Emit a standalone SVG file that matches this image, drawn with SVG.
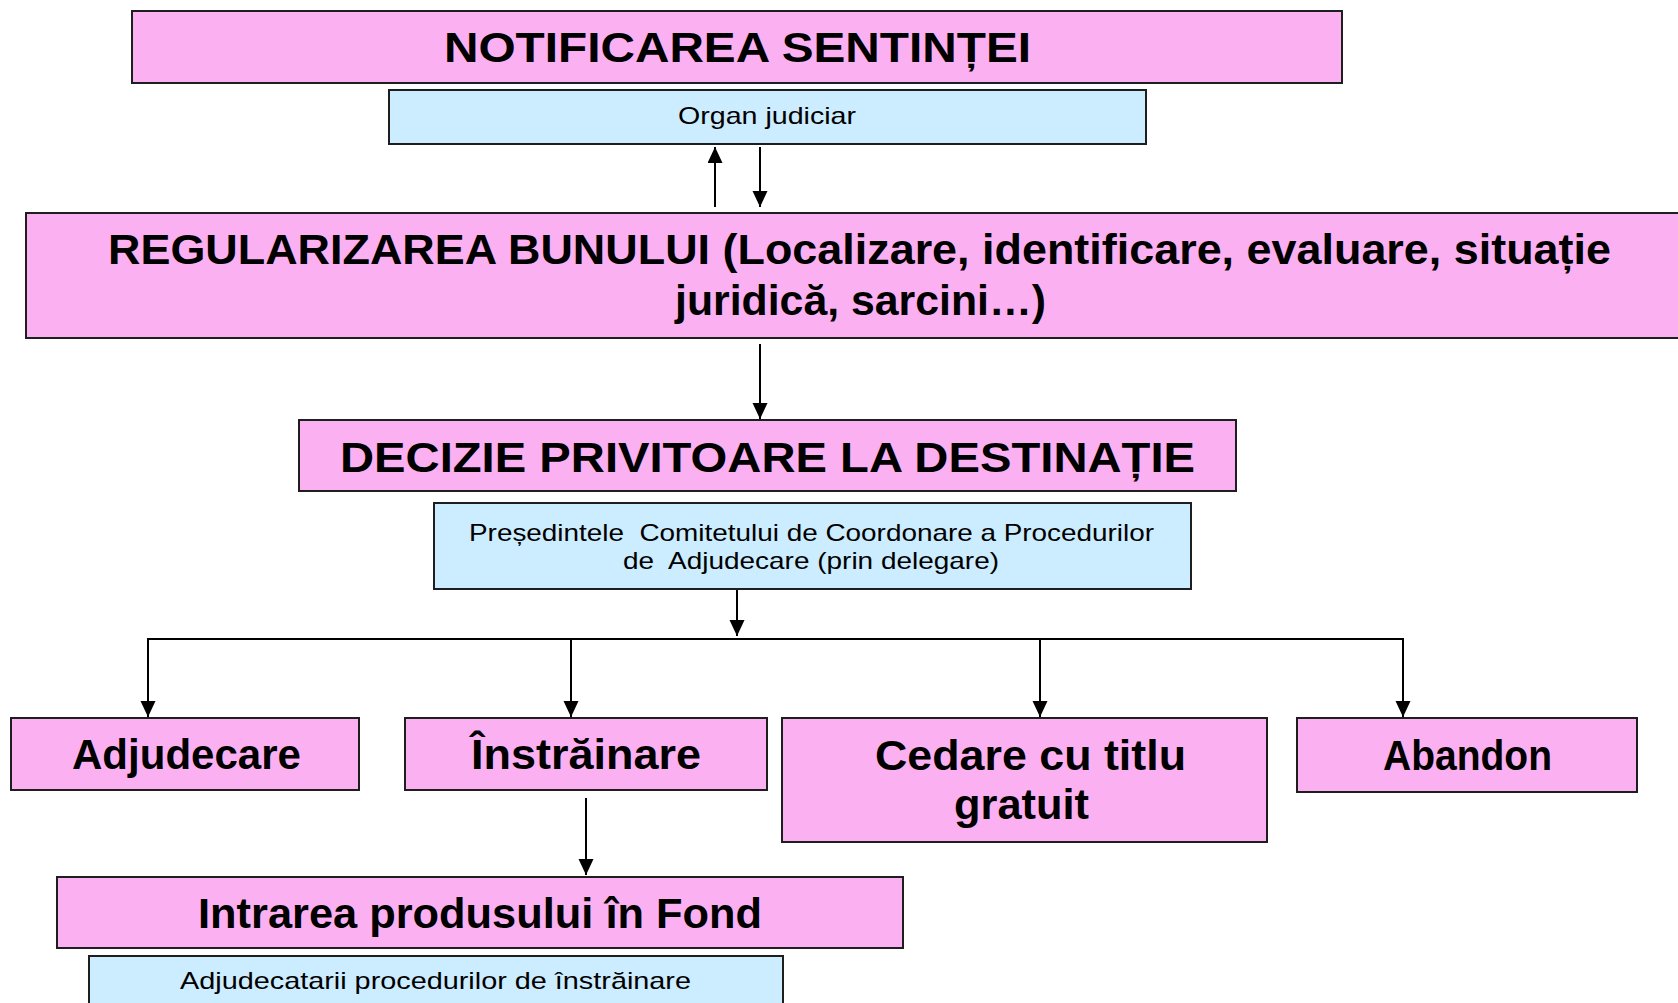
<svg xmlns="http://www.w3.org/2000/svg" width="1678" height="1003" viewBox="0 0 1678 1003">
<style>
.pk{fill:#FBB1F1;stroke:#1e1e1e;stroke-width:2}
.bl{fill:#CCECFF;stroke:#1e1e1e;stroke-width:2}
.big{font-family:"Liberation Sans",Arial,sans-serif;font-weight:bold;font-size:43px;fill:#000}
.sm{font-family:"Liberation Sans",Arial,sans-serif;font-size:24px;fill:#000}
.ln{stroke:#000;stroke-width:2;fill:none}
</style>
<defs>
<marker id="ah" markerUnits="userSpaceOnUse" markerWidth="16" markerHeight="16" refX="16" refY="7.5" orient="auto">
<path d="M0,0 L16,7.5 L0,15 z" fill="#000"/>
</marker>
</defs>
<rect width="1678" height="1003" fill="#fff"/>
<g id="connectors">
<line class="ln" x1="715" y1="207" x2="715" y2="147" marker-end="url(#ah)"/>
<line class="ln" x1="760" y1="147" x2="760" y2="207" marker-end="url(#ah)"/>
<line class="ln" x1="760" y1="344" x2="760" y2="419" marker-end="url(#ah)"/>
<line class="ln" x1="737" y1="589" x2="737" y2="636" marker-end="url(#ah)"/>
<line class="ln" x1="147" y1="639" x2="1404" y2="639"/>
<line class="ln" x1="148" y1="639" x2="148" y2="717" marker-end="url(#ah)"/>
<line class="ln" x1="571" y1="639" x2="571" y2="717" marker-end="url(#ah)"/>
<line class="ln" x1="1040" y1="639" x2="1040" y2="717" marker-end="url(#ah)"/>
<line class="ln" x1="1403" y1="639" x2="1403" y2="717" marker-end="url(#ah)"/>
<line class="ln" x1="586" y1="798" x2="586" y2="875" marker-end="url(#ah)"/>
</g>
<g id="notificarea">
<rect class="pk" x="132" y="11" width="1210" height="72"/>
<text class="big" x="444" y="62" textLength="587" lengthAdjust="spacingAndGlyphs">NOTIFICAREA SENTINȚEI</text>
</g>
<g id="organ">
<rect class="bl" x="389" y="90" width="757" height="54"/>
<text class="sm" x="678" y="124" textLength="178" lengthAdjust="spacingAndGlyphs">Organ judiciar</text>
</g>
<g id="regularizarea">
<rect class="pk" x="26" y="213" width="1670" height="125"/>
<text class="big" x="108" y="264" textLength="1503" lengthAdjust="spacingAndGlyphs">REGULARIZAREA BUNULUI (Localizare, identificare, evaluare, situație</text>
<text class="big" x="675" y="315" textLength="371" lengthAdjust="spacingAndGlyphs">juridică, sarcini…)</text>
</g>
<g id="decizie">
<rect class="pk" x="299" y="420" width="937" height="71"/>
<text class="big" x="340" y="472" textLength="855" lengthAdjust="spacingAndGlyphs">DECIZIE PRIVITOARE LA DESTINAȚIE</text>
</g>
<g id="presedintele">
<rect class="bl" x="434" y="503" width="757" height="86"/>
<text class="sm" x="469" y="541" xml:space="preserve" textLength="685" lengthAdjust="spacingAndGlyphs">Președintele  Comitetului de Coordonare a Procedurilor</text>
<text class="sm" x="623" y="569" xml:space="preserve" textLength="376" lengthAdjust="spacingAndGlyphs">de  Adjudecare (prin delegare)</text>
</g>
<g id="adjudecare">
<rect class="pk" x="11" y="718" width="348" height="72"/>
<text class="big" x="72" y="769" textLength="229" lengthAdjust="spacingAndGlyphs">Adjudecare</text>
</g>
<g id="instrainare">
<rect class="pk" x="405" y="718" width="362" height="72"/>
<text class="big" x="471" y="769" textLength="230" lengthAdjust="spacingAndGlyphs">Înstrăinare</text>
</g>
<g id="cedare">
<rect class="pk" x="782" y="718" width="485" height="124"/>
<text class="big" x="875" y="770" textLength="311" lengthAdjust="spacingAndGlyphs">Cedare cu titlu</text>
<text class="big" x="954" y="819" textLength="135" lengthAdjust="spacingAndGlyphs">gratuit</text>
</g>
<g id="abandon">
<rect class="pk" x="1297" y="718" width="340" height="74"/>
<text class="big" x="1383" y="770" textLength="169" lengthAdjust="spacingAndGlyphs">Abandon</text>
</g>
<g id="intrarea">
<rect class="pk" x="57" y="877" width="846" height="71"/>
<text class="big" x="198" y="928" textLength="564" lengthAdjust="spacingAndGlyphs">Intrarea produsului în Fond</text>
</g>
<g id="adjudecatarii">
<rect class="bl" x="89" y="956" width="694" height="60"/>
<text class="sm" x="180" y="989" textLength="511" lengthAdjust="spacingAndGlyphs">Adjudecatarii procedurilor de înstrăinare</text>
</g>
</svg>
